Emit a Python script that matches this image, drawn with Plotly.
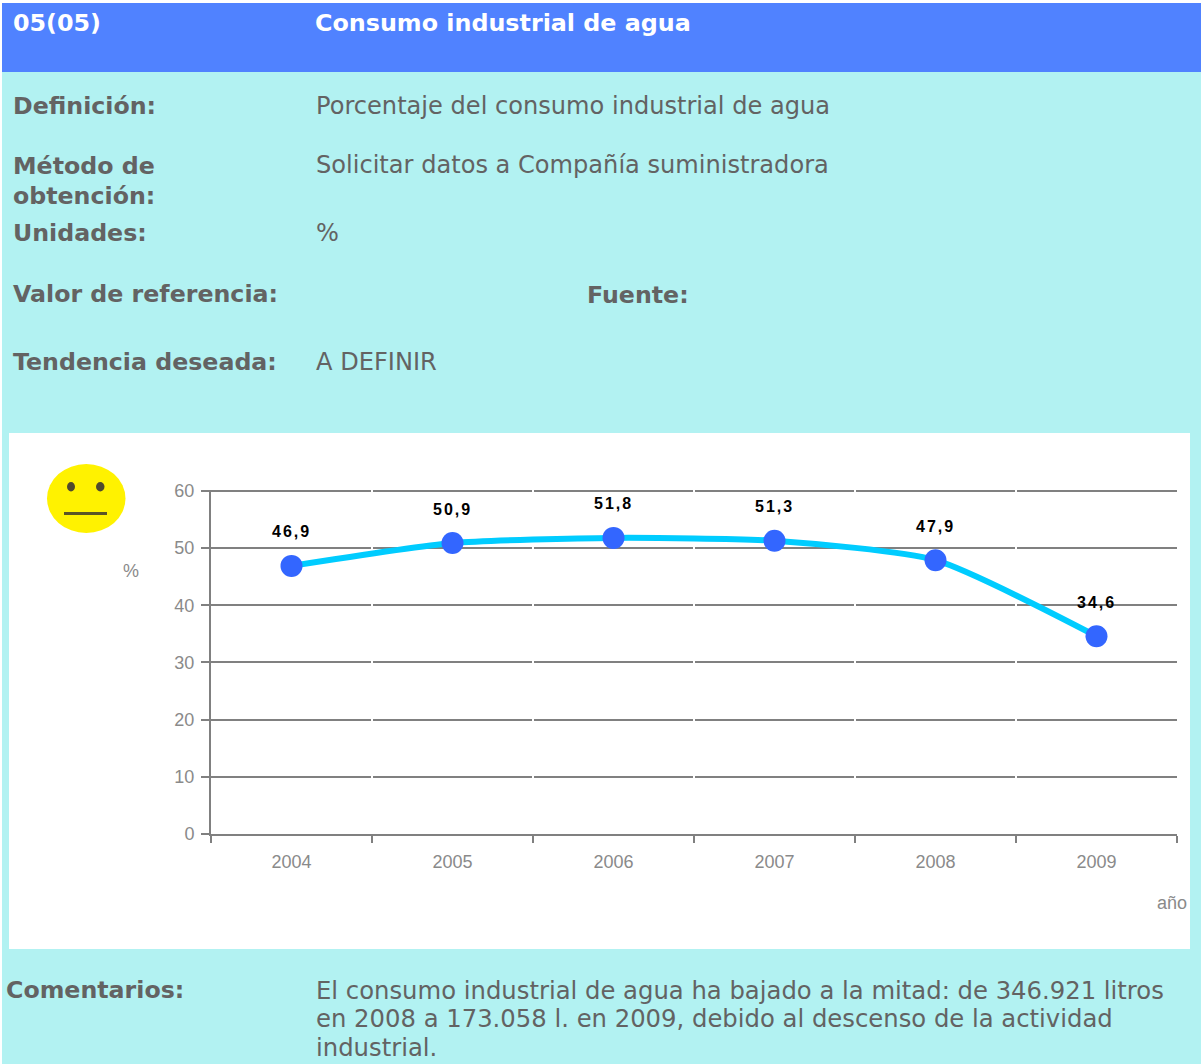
import plotly.graph_objects as go

years = ["2004", "2005", "2006", "2007", "2008", "2009"]
values = [46.9, 50.9, 51.8, 51.3, 47.9, 34.6]
value_labels = ["46,9", "50,9", "51,8", "51,3", "47,9", "34,6"]
y_ticks = [0, 10, 20, 30, 40, 50, 60]
boundaries = [-0.5, 0.5, 1.5, 2.5, 3.5, 4.5, 5.5]

W, H = 1201, 1064
CYAN = "#b2f2f2"
BLUE = "#5082ff"
TXT = "#636363"
GREY = "#808080"
LBL = "#8a8a8a"
PAGE = "DejaVu Sans, Verdana, sans-serif"
ARIAL = "Liberation Sans, Arial, sans-serif"
Y_TOP = 60.2

def fx(p): return p / W
def fy(p): return 1 - p / H

def rect(x0, y0, x1, y1, color):
    return dict(type="rect", xref="paper", yref="paper", x0=fx(x0), x1=fx(x1), y0=fy(y0), y1=fy(y1),
                fillcolor=color, line_width=0, layer="below")

shapes = [
    rect(2, 3, W, 72, BLUE),
    rect(2, 72, W, H, CYAN),
    rect(9, 433, 1190, 949, "#ffffff"),
    dict(type="circle", xref="paper", yref="paper", x0=fx(47), x1=fx(125.5), y0=fy(464), y1=fy(533),
         fillcolor="#fff200", line_width=0, layer="below"),
    dict(type="circle", xref="paper", yref="paper", x0=fx(67), x1=fx(75), y0=fy(482), y1=fy(491.5),
         fillcolor="#4f4a2e", line_width=0, layer="below"),
    dict(type="circle", xref="paper", yref="paper", x0=fx(96), x1=fx(104.5), y0=fy(482), y1=fy(491.5),
         fillcolor="#4f4a2e", line_width=0, layer="below"),
    dict(type="line", xref="paper", yref="paper", x0=fx(64), x1=fx(107), y0=fy(513.5), y1=fy(513.5),
         line=dict(color="#5a5426", width=3), layer="below"),
]
for b in boundaries[1:-1]:
    shapes.append(dict(type="line", xref="x", yref="y", x0=b, x1=b, y0=1, y1=Y_TOP,
                       line=dict(color="#ffffff", width=2), layer="between"))

def t(x, y, s, size=24.1, bold=False, color=TXT, font=PAGE, anchor="left"):
    return dict(xref="paper", yref="paper", x=fx(x), y=fy(y), text=f"<b>{s}</b>" if bold else s,
                showarrow=False, xanchor=anchor, yanchor="middle", align="left",
                borderpad=0, borderwidth=0,
                font=dict(size=size, color=color, family=font))

ann = [
    t(13, 23, "05(05)", 23.8, True, "#ffffff"),
    t(315, 23, "Consumo industrial de agua", 23.8, True, "#ffffff"),
    t(13, 106, "Definición:", 23.7, True),
    t(316, 106, "Porcentaje del consumo industrial de agua"),
    t(13, 166, "Método de", 23.7, True),
    t(316, 165, "Solicitar datos a Compañía suministradora"),
    t(13, 196, "obtención:", 23.7, True),
    t(13, 233, "Unidades:", 23.7, True),
    t(316, 233, "%"),
    t(13, 294, "Valor de referencia:", 23.7, True),
    t(587, 295, "Fuente:", 23.7, True),
    t(13, 362, "Tendencia deseada:", 23.7, True),
    t(316, 362, "A DEFINIR"),
    t(6, 990, "Comentarios:", 23.7, True),
    t(316, 990, "El consumo industrial de agua ha bajado a la mitad: de 346.921 litros", 24.3),
    t(316, 1018, "en 2008 a 173.058 l. en 2009, debido al descenso de la actividad", 24.3),
    t(316, 1047, "industrial.", 24.3),
    t(131, 571, "%", 18, False, LBL, ARIAL, "center"),
    t(1187, 903, "año", 18, False, LBL, ARIAL, "right"),
]
for i, lab in enumerate(value_labels):
    ann.append(dict(x=i, y=values[i], xref="x", yref="y", text=f"<b>{lab}</b>", showarrow=False,
                    yshift=34, yanchor="middle", borderpad=0, borderwidth=0,
                    font=dict(size=16, color="#000000", family=ARIAL)))

fig = go.Figure()
fig.add_trace(go.Scatter(
    x=list(range(len(years))), y=values, mode="lines+markers",
    line=dict(color="#00ccff", width=6, shape="spline", smoothing=0.6),
    marker=dict(color="#3366ff", size=22), hoverinfo="skip", showlegend=False, cliponaxis=False))

fig.update_layout(
    width=W, height=H, margin=dict(l=0, r=0, t=0, b=0, autoexpand=False), paper_bgcolor="#ffffff", plot_bgcolor="rgba(0,0,0,0)",
    shapes=shapes, annotations=ann,
    xaxis=dict(domain=[fx(211), fx(1177)], range=[-0.5, 5.5], tickmode="array",
               tickvals=list(range(len(years))), ticktext=years, ticks="", showgrid=False, zeroline=False,
               tickfont=dict(size=18, color=LBL, family=ARIAL), ticklabelstandoff=10,
               minor=dict(tickmode="array", tickvals=boundaries, ticks="outside", ticklen=7, tickcolor=GREY, tickwidth=2, showgrid=False),
               showline=True, linecolor=GREY, linewidth=2),
    yaxis=dict(domain=[fy(834), fy(834 - 343 * Y_TOP / 60)], range=[0, Y_TOP], tickmode="array", tickvals=y_ticks, ticks="outside",
               ticklen=8, tickcolor=GREY, tickwidth=2, gridcolor=GREY, gridwidth=2, zeroline=False,
               showline=True, linecolor=GREY, linewidth=2, ticklabelstandoff=3,
               tickfont=dict(size=18, color=LBL, family=ARIAL)),
)
post = """
document.documentElement.style.margin='0';document.body.style.margin='0';
document.querySelectorAll('.annotation-text').forEach(function(e){
  if(/^\\d\\d,\\d$/.test(e.textContent)){e.style.letterSpacing='2px';}
});
"""
fig.write_html("out.html", post_script=post, config={"displayModeBar": False})
